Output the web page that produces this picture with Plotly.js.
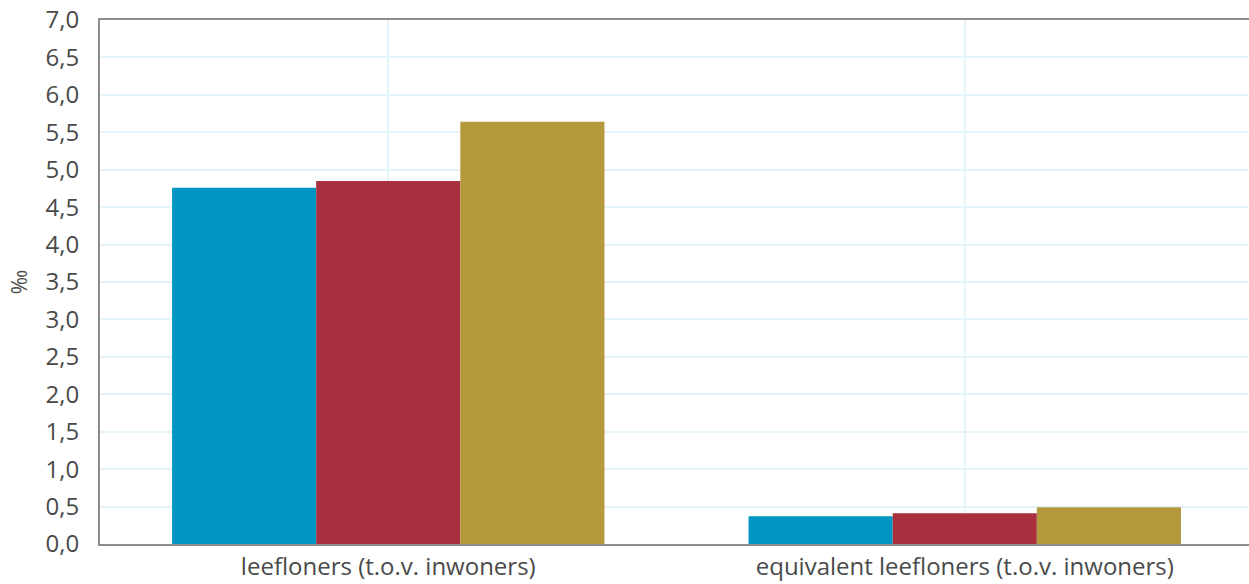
<!DOCTYPE html>
<html>
<head>
<meta charset="utf-8">
<script src="https://cdn.plot.ly/plotly-3.0.1.min.js"></script>
<style>html,body{margin:0;padding:0;background:#fff;}#chart{width:1249px;height:584px;}</style>
</head>
<body>
<div id="chart"></div>
<script>
const categories = ["leefloners (t.o.v. inwoners)", "equivalent leefloners (t.o.v. inwoners)"];
const seriesNames = ["reeks 1", "reeks 2", "reeks 3"];
const series1 = [4.76, 0.37];
const series2 = [4.85, 0.41];
const series3 = [5.64, 0.49];
const colors = ["#0096c3", "#a9303f", "#b3983c"];
const yTitle = "‰";

const values = [series1, series2, series3];
const traces = values.map((v, i) => ({
  type: "bar",
  x: categories,
  y: v,
  name: seriesNames[i],
  marker: {color: colors[i]},
  hoverinfo: "x+y"
}));

const font = {family: "'Open Sans', 'Noto Sans', sans-serif", size: 24, color: "#4a4a4a"};

const layout = {
  width: 1249, height: 584,
  margin: {l: 100, r: 0, t: 20, b: 40},
  paper_bgcolor: "#fff", plot_bgcolor: "#fff",
  showlegend: false,
  bargap: 0.25, bargroupgap: 0,
  barmode: "group",
  separators: ",.",
  font: font,
  xaxis: {
    type: "category",
    range: [-0.5, 1.493],
    showgrid: true, gridcolor: "#e3f5fb", gridwidth: 2,
    showline: true, linecolor: "#8c8c8c", linewidth: 2, mirror: true,
    ticks: "", ticklabelstandoff: 0,
    tickfont: font
  },
  yaxis: {
    range: [0, 7], dtick: 0.5, tick0: 0,
    tickformat: ".1f",
    showgrid: true, gridcolor: "#e3f5fb", gridwidth: 2,
    zeroline: false,
    showline: true, linecolor: "#8c8c8c", linewidth: 2,
    ticks: "", ticklabelstandoff: 14,
    tickfont: font,
    title: {text: yTitle, font: {family: font.family, size: 21, color: "#4a4a4a"}, standoff: 12}
  }
};

Plotly.newPlot("chart", traces, layout, {staticPlot: true, displayModeBar: false});
</script>
</body>
</html>
